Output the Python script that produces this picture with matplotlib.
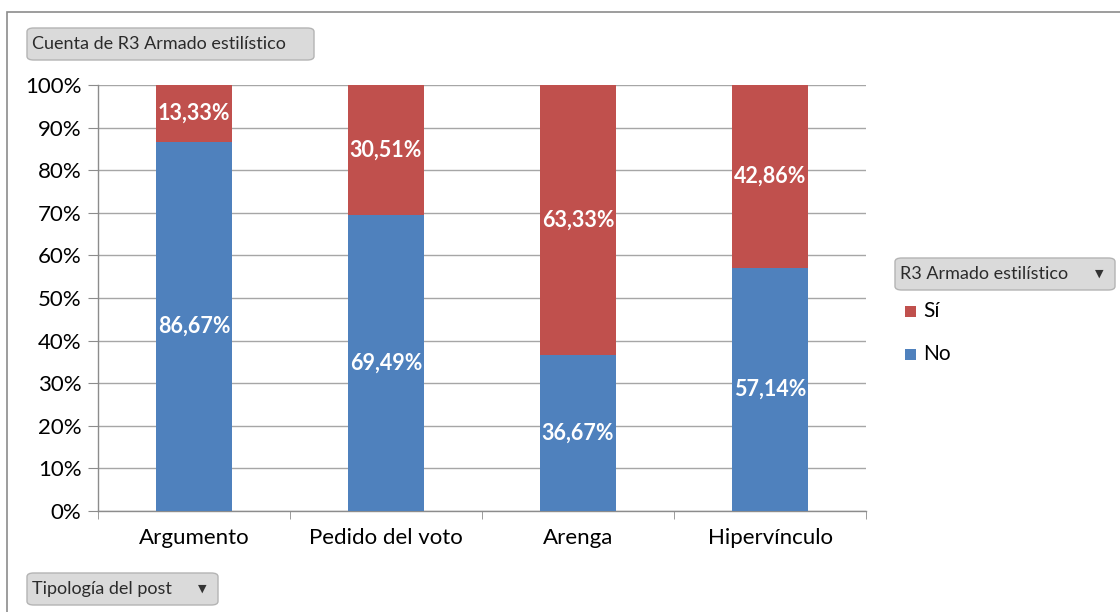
import matplotlib
matplotlib.use("Agg")
import matplotlib.pyplot as plt
from matplotlib.patches import FancyBboxPatch, Rectangle
from matplotlib.ticker import FixedLocator

plt.rcParams['font.family'] = ['Lato', 'DejaVu Sans']

categories = ["Argumento", "Pedido del voto", "Arenga", "Hipervínculo"]
no_vals = [86.67, 69.49, 36.67, 57.14]
si_vals = [13.33, 30.51, 63.33, 42.86]
series_names = ["Sí", "No"]
y_ticks = list(range(0, 101, 10))

BLUE = "#4F81BD"
RED = "#C0504D"
GRID = "#A6A6A6"

W, H = 1120, 612
fig = plt.figure(figsize=(W / 100, H / 100), dpi=100)

def fx(px):
    return px / W

def fy(py):
    return 1 - py / H

# outer chart frame (runs past the right and bottom edges)
fig.add_artist(Rectangle((fx(7), fy(640)), fx(1160) - fx(7), fy(12) - fy(640),
                         transform=fig.transFigure, fill=False,
                         edgecolor="#8C8C8C", linewidth=1.2))

ax = fig.add_axes([fx(98), fy(511), fx(866) - fx(98), fy(85) - fy(511)])
x = list(range(len(categories)))
width = 0.395
ax.bar(x, no_vals, width=width, color=BLUE, zorder=3)
ax.bar(x, si_vals, width=width, bottom=no_vals, color=RED, zorder=3)

for i in x:
    ax.text(i, no_vals[i] / 2, f"{no_vals[i]:.2f}%".replace(".", ","),
            ha="center", va="center", color="white", fontsize=15.5,
            fontweight="bold", zorder=4)
    ax.text(i, no_vals[i] + si_vals[i] / 2, f"{si_vals[i]:.2f}%".replace(".", ","),
            ha="center", va="center", color="white", fontsize=15.5,
            fontweight="bold", zorder=4)

ax.set_xlim(-0.5, len(categories) - 0.5)
ax.set_ylim(0, 100)
ax.yaxis.set_major_locator(FixedLocator(y_ticks))
ax.set_yticklabels([f"{t}%" for t in y_ticks], fontsize=16)
ax.yaxis.grid(True, color=GRID, linewidth=1.0, zorder=0)
ax.set_axisbelow(True)

ax.set_xticks(x)
ax.set_xticklabels(categories, fontsize=16)
ax.xaxis.set_minor_locator(FixedLocator([i + 0.5 for i in range(-1, len(categories))]))
ax.tick_params(axis="x", which="major", length=0, pad=12)
ax.tick_params(axis="x", which="minor", length=6, color="#8C8C8C", direction="out")
ax.tick_params(axis="y", length=7, color="#8C8C8C", direction="out", pad=5)

for side in ["top", "right"]:
    ax.spines[side].set_visible(False)
for side in ["left", "bottom"]:
    ax.spines[side].set_color("#8C8C8C")
    ax.spines[side].set_linewidth(1.0)

def button(x0, y0, x1, y1, label, arrow=False):
    box = FancyBboxPatch((fx(x0), fy(y1)), fx(x1) - fx(x0), fy(y0) - fy(y1),
                         boxstyle="round,pad=0,rounding_size=0.006",
                         transform=fig.transFigure, facecolor="#DADADA",
                         edgecolor="#B4B4B4", linewidth=1.0)
    fig.add_artist(box)
    fig.text(fx(x0 + 5), fy((y0 + y1) / 2), label, ha="left", va="center",
             fontsize=13, color="#2B2B2B")
    if arrow:
        fig.text(fx(x1 - 16), fy((y0 + y1) / 2), "▼", ha="center", va="center",
                 fontsize=8, color="#333333", family="DejaVu Sans")

button(27, 28, 314, 60, "Cuenta de R3 Armado estilístico")
button(895, 258, 1115, 290, "R3 Armado estilístico", arrow=True)
button(27, 573, 218, 605, "Tipología del post", arrow=True)

# legend
legend_items = [(series_names[0], RED, 311), (series_names[1], BLUE, 354)]
for name, col, py in legend_items:
    fig.add_artist(Rectangle((fx(905), fy(py + 6)), fx(11), fy(0) - fy(11),
                             transform=fig.transFigure, facecolor=col,
                             edgecolor="none"))
    fig.text(fx(923), fy(py), name, ha="left", va="center", fontsize=15,
             color="#000000")

fig.savefig("out.png", dpi=100)
